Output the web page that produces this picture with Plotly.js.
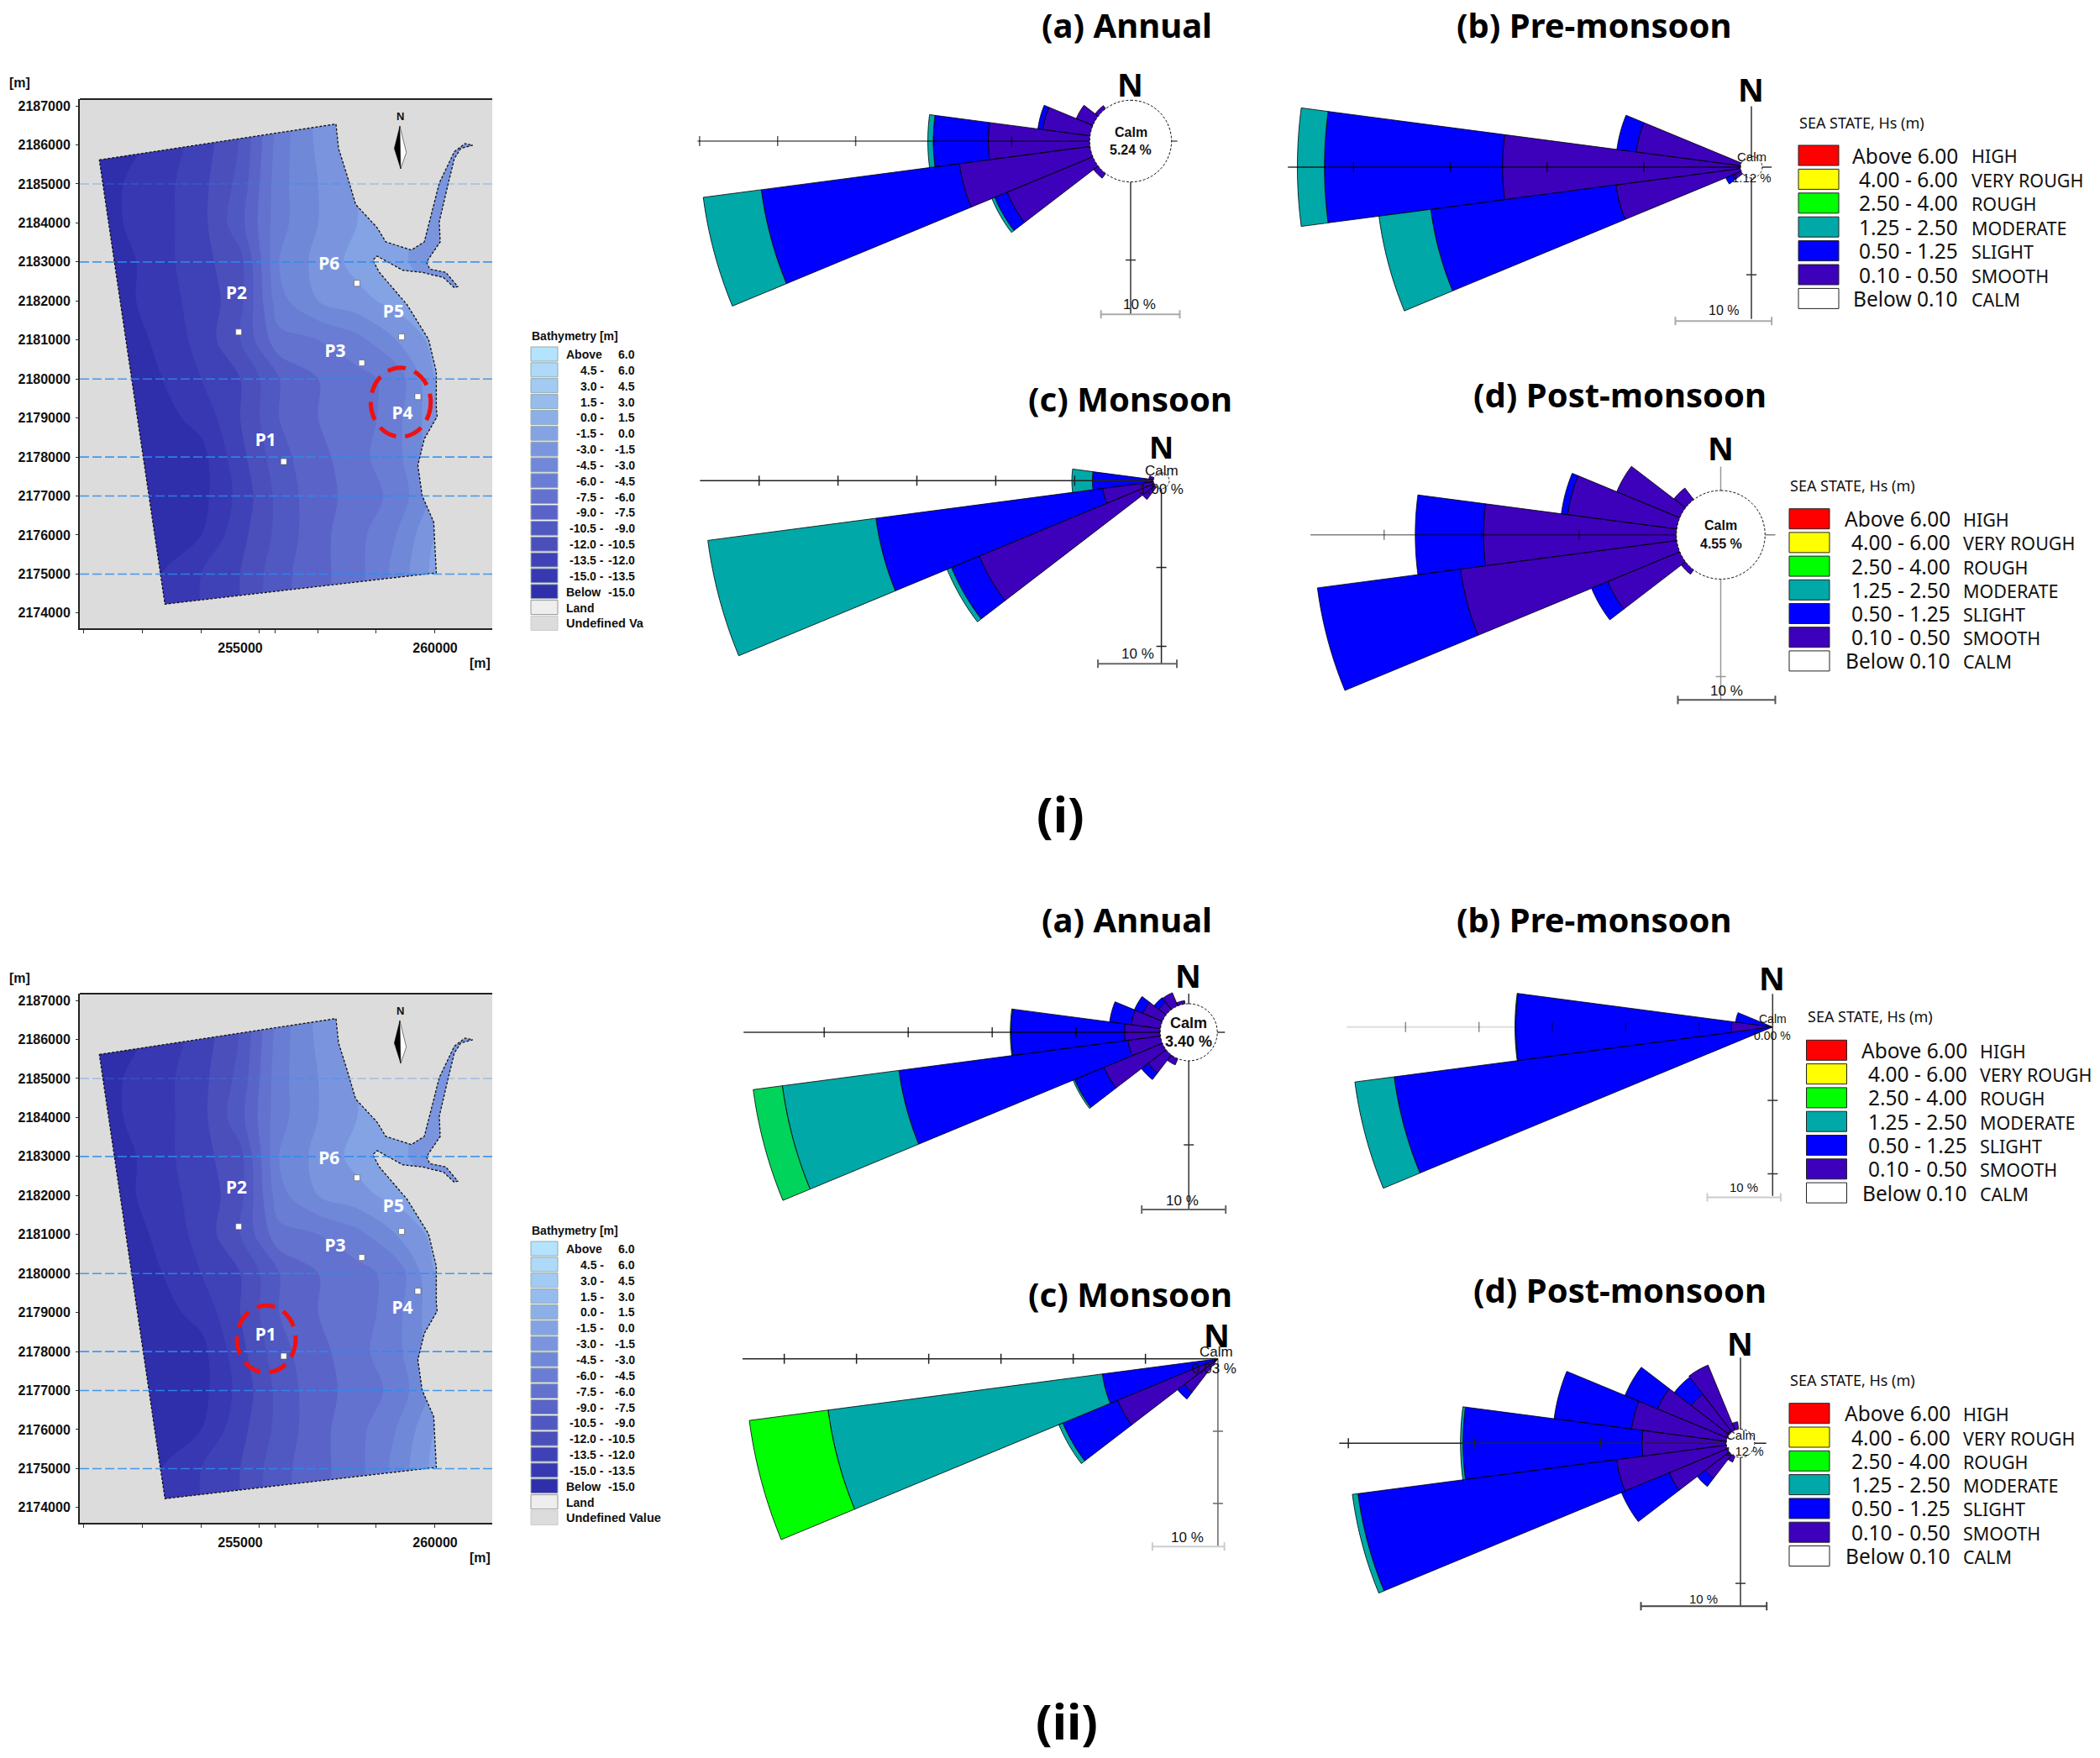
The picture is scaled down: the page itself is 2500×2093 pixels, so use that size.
<!DOCTYPE html>
<html><head><meta charset="utf-8">
<script src="https://cdn.plot.ly/plotly-3.0.1.min.js"></script>
<style>html,body{margin:0;padding:0;background:#fff}#g{width:2500px;height:2093px}</style>
</head><body><div id="g"></div><script>
// ---------- bathymetry map data ----------
const gridX=[251000,252000,253000,254000,255000,256000,257000,258000,259000,260000,261000];
const gridY=[2187000,2186000,2185000,2184000,2183000,2182000,2181000,2180000,2179000,2178000,2177000,2176000,2175000,2174000];
const depth=[
[-16,-15.5,-14.5,-13,-10.5,-5.5,-2.5,-1,-1,-1,-1],
[-16,-15.5,-14.4,-12.8,-10.4,-5.2,-2.7,-1.2,-1,-2,-2],
[-16,-15,-14,-12.5,-10,-5,-3,-1.5,-1,-2,-2],
[-16,-15,-14,-12.5,-9.5,-5,-3,-1.5,-1,-2,-2],
[-16,-15.5,-14,-12.5,-11,-4.5,-2.5,-1,-1,-2.5,-2.5],
[-16,-15.5,-14,-13,-11,-5,-3,-2,-1,-1,-1],
[-16,-16,-14.5,-13,-10.5,-6.5,-6,-5,-3,-1,-1],
[-16.5,-16.5,-15,-13.5,-12,-9,-7.5,-6.5,-5.5,-1.5,-1],
[-16.5,-16.5,-15.5,-14.5,-12,-9,-7.5,-7,-5,-2,-1],
[-16.5,-16.5,-16,-15.5,-12.5,-9.5,-8,-6.5,-5,-2,-1],
[-16.5,-16.5,-16,-15.5,-13,-10,-8,-7,-5.5,-2.5,-1],
[-16.5,-16.5,-16,-15,-12.5,-10,-8,-6.5,-4.5,-1.5,-1],
[-16,-16,-15,-13.5,-12,-9.5,-8,-6.5,-4,-1,-1],
[-16,-16,-15,-13.5,-12,-9.5,-8,-6.5,-4,-1,-1]];
const coastX=[251385,257457,257523,257721,257963,258513,258733,259393,259723,260108,260383,260493,260768,260966,260658,260493,260328,260108,260130,259778,259866,260273,260581,260493,260218,259668,259173,258513,258403,258568,259283,259833,260031,260031,260053,259723,259558,259668,259965,260031,253068];
const coastY=[2185618,2186534,2185909,2185284,2184472,2183879,2183515,2183307,2183515,2185024,2185597,2185826,2186034,2185992,2185909,2185649,2184972,2184035,2183515,2182994,2182817,2182734,2182370,2182338,2182599,2182734,2182786,2183150,2183046,2182734,2181901,2181016,2180183,2179247,2179038,2178466,2177789,2177008,2176332,2175031,2174229];
const stationNames=['P1','P2','P3','P4','P5','P6'];
const stationX=[256115,254960,258117,259558,259140,257996];
const stationY=[2177883,2181204,2180412,2179548,2181079,2182453];
const stationLabelX=[255653,254905,257435,259162,258931,257281];
const stationLabelY=[2178393,2182161,2180683,2179090,2181693,2182921];
const dashedY=[2185000,2183000,2180000,2178000,2177000,2175000];
const bathyLow=['Above','4.5 -','3.0 -','1.5 -','0.0 -','-1.5 -','-3.0 -','-4.5 -','-6.0 -','-7.5 -','-9.0 -','-10.5 -','-12.0 -','-13.5 -','-15.0 -','Below'];
const bathyHigh=['6.0','6.0','4.5','3.0','1.5','0.0','-1.5','-3.0','-4.5','-6.0','-7.5','-9.0','-10.5','-12.0','-13.5','-15.0'];
const bathyColors=['#b4e3fe','#aed9f9','#a2cbf3','#96bcee','#8cafe8','#84a3e4','#7a95de','#7088d8','#6a7dd4','#6272ce','#5a64c8','#5058c2','#4a4fbc','#3f42b7','#3838b3','#2f2fab'];
// ---------- wave rose data: percent occurrence per 15 degree sector ----------
const directions=[195,210,225,240,255,270,285,300,315,330,345];
const ia_calm=5.24, ib_calm=1.12, ic_calm=1.00, id_calm=4.55, iia_calm=3.40, iib_calm=0.00, iic_calm=0.03, iid_calm=1.12;
const ia_smooth=[0,0,.75,11.9,16.9,13,6.1,2.3,.5,0,0];
const ia_slight=[0,0,0,1.7,25.6,7.05,.65,0,0,0,0];
const ia_moderate=[0,0,0,.4,7.5,.7,0,0,0,0,0];
const ib_smooth=[0,0,0,1,13,24.6,10.9,0,0,0,0];
const ib_slight=[0,0,0,.75,19.3,18.4,2,0,0,0,0];
const ib_moderate=[0,0,0,0,5.4,2.8,0,0,0,0,0];
const ic_smooth=[0,0,2,24,6.5,1,.6,0,0,0,0];
const ic_slight=[0,0,0,3.8,29,6.75,0,0,0,0,0];
const ic_moderate=[0,0,0,.6,21.5,2.6,0,0,0,0,0];
const id_smooth=[0,0,.55,8,22.4,19.8,11.3,7,1.5,0,0];
const id_slight=[0,0,0,1.8,14.8,7,.65,0,0,0,0];
const iia_smooth=[0,.8,2.7,7.5,3.9,4.25,3.5,2.5,1.1,1.7,.4];
const iia_slight=[0,0,1,3.8,27.5,13.5,2.6,1.1,.7,0,0];
const iia_moderate=[0,0,0,.2,14,.1,0,0,0,0,0];
const iia_rough=[0,0,0,0,3.5,0,0,0,0,0,0];
const iib_smooth=[0,0,0,0,.3,5.6,0,0,0,0,0];
const iib_slight=[0,0,0,0,51.7,29.4,5.1,0,0,0,0];
const iib_moderate=[0,0,0,0,5.4,.1,0,0,0,0,0];
const iic_smooth=[0,0,5.8,15,.5,.5,0,0,0,0,0];
const iic_slight=[0,0,1.2,8.2,15.6,0,0,0,0,0,0];
const iic_moderate=[0,0,0,.6,38.3,0,0,0,0,0,0];
const iic_rough=[0,0,0,0,11,0,0,0,0,0,0];
const iid_smooth=[0,.5,2.4,5,8.8,6.7,7.6,6,3.8,5.6,.6];
const iid_slight=[0,0,.8,4.1,20.7,14.2,6.2,2.8,1.7,0,0];
const iid_moderate=[0,0,0,0,.45,.2,0,0,0,0,0];
const seaRanges=['Above 6.00','4.00 - 6.00','2.50 - 4.00','1.25 - 2.50','0.50 - 1.25','0.10 - 0.50','Below 0.10'];
const seaNames=['HIGH','VERY ROUGH','ROUGH','MODERATE','SLIGHT','SMOOTH','CALM'];
const seaColors=['#ff0000','#ffff00','#00ff00','#00a8a8','#0000ff','#3d00bb','#ffffff'];

// ---------- page helpers ----------
const W=2500,H=2093;
const data=[],shapes=[],annotations=[],layout={};
const px=x=>x/W, py=y=>1-y/H;
function text(x,y,t,size,o={}){annotations.push(Object.assign({xref:'paper',yref:'paper',x:px(x),y:py(y),text:t,showarrow:false,
 xanchor:o.anchor||'center',yanchor:'middle',borderpad:0,
 font:{family:o.family||'Liberation Sans',size:size,color:o.color||'#000',weight:o.weight||'normal'}},o.extra||{}));}
function swatch(x0,y0,x1,y1,fill,lc){shapes.push({type:'rect',xref:'paper',yref:'paper',x0:px(x0),x1:px(x1),y0:py(y0),y1:py(y1),fillcolor:fill,line:{color:lc,width:1},layer:'above'});}
const SANS='Noto Sans';

// ---------- map panels ----------
function addMap(n,dy,circle,undefinedLabel){
 const ax=n===1?'':String(n), xa='x'+ax, ya='y'+ax;
 const L=95,R=586,T=118+dy,B=748+dy;
 const xr=[250884,261466], yr=[2173610,2187174];
 layout['xaxis'+ax]={domain:[px(L),px(R)],range:xr,anchor:ya,fixedrange:true,showgrid:false,zeroline:false,showline:true,linecolor:'#222',linewidth:2,
  tickmode:'array',tickvals:[255000,260000],ticktext:['255000','260000'],ticks:'',ticklabelstandoff:8,tickfont:{family:'Liberation Sans',size:16,color:'#111',weight:'bold'},
  minor:{tickmode:'array',tickvals:[250990,252490,253990,255490,255900,256990,258490,259990],ticks:'outside',ticklen:4,tickcolor:'#333',tickwidth:1,showgrid:false}};
 layout['yaxis'+ax]={domain:[py(B),py(T)],range:yr,anchor:xa,fixedrange:true,showgrid:false,zeroline:false,showline:true,linecolor:'#222',linewidth:2,
  tickmode:'array',tickvals:gridY,ticktext:gridY.map(String),ticks:'outside',ticklen:3,tickcolor:'#333',tickfont:{family:'Liberation Sans',size:16,color:'#111',weight:'bold'},ticklabelstandoff:3};
 data.push({type:'contour',x:gridX,y:gridY,z:depth,xaxis:xa,yaxis:ya,zmin:-16.5,zmax:7.5,showscale:false,hoverinfo:'skip',autocontour:false,
  contours:{start:-15,end:6,size:1.5,coloring:'fill',showlines:false},line:{width:0,smoothing:1},
  colorscale:bathyColors.slice().reverse().map((c,i)=>[i/15,c])});
 const x0=xr[0]-200,x1=xr[1]+200,y0=yr[0]-200,y1=yr[1]+200;
 const maskX=[x0,x0,x1,x1,x0].concat(coastX,[coastX[0],x0]);
 const maskY=[y1,y0,y0,y1,y1].concat(coastY,[coastY[0],y1]);
 data.push({type:'scatter',mode:'lines',x:maskX,y:maskY,xaxis:xa,yaxis:ya,fill:'toself',fillcolor:'#dcdcdc',line:{width:0,simplify:false},hoverinfo:'skip',showlegend:false});
 data.push({type:'scatter',mode:'lines',x:coastX.concat(coastX[0]),y:coastY.concat(coastY[0]),xaxis:xa,yaxis:ya,line:{color:'#111',width:1.3,dash:'3px,2px',simplify:false},hoverinfo:'skip',showlegend:false});
 dashedY.forEach((v,i)=>data.push({type:'scatter',mode:'lines',x:xr,y:[v,v],xaxis:xa,yaxis:ya,opacity:i===0?0.35:0.85,line:{color:'#2a8cf0',width:1.6,dash:'11px,4px'},hoverinfo:'skip',showlegend:false}));
 // station squares and labels
 data.push({type:'scatter',mode:'markers+text',x:stationLabelX,y:stationLabelY,text:stationNames,textposition:'middle center',xaxis:xa,yaxis:ya,
  marker:{opacity:0,size:1},textfont:{family:SANS,size:21,color:'#fff',weight:'bold'},hoverinfo:'skip',showlegend:false});
 data.push({type:'scatter',mode:'markers',x:stationX,y:stationY,xaxis:xa,yaxis:ya,marker:{symbol:'square',size:7,color:'#fff',line:{color:'#555',width:0.6}},hoverinfo:'skip',showlegend:false});
 // north arrow
 data.push({type:'scatter',mode:'lines',x:[259096,259118,258953,259096],y:[2186482,2185389,2185909,2186482],xaxis:xa,yaxis:ya,fill:'toself',fillcolor:'#000',line:{color:'#000',width:0.5},hoverinfo:'skip',showlegend:false});
 data.push({type:'scatter',mode:'lines',x:[259096,259261,259118,259096],y:[2186482,2185805,2185389,2186482],xaxis:xa,yaxis:ya,fill:'toself',fillcolor:'#fff',line:{color:'#000',width:0.5},hoverinfo:'skip',showlegend:false});
 annotations.push({xref:xa,yref:ya,x:259096,y:2186742,text:'N',showarrow:false,font:{family:'Liberation Sans',size:13,color:'#111',weight:'bold'}});
 // top frame
 shapes.push({type:'line',xref:'paper',yref:'paper',x0:px(L),x1:px(R),y0:py(T),y1:py(T),line:{color:'#222',width:2}});
 // red circle
 shapes.push({type:'circle',xref:xa,yref:ya,x0:circle[0]-circle[2],x1:circle[0]+circle[2],y0:circle[1]-circle[3],y1:circle[1]+circle[3],line:{color:'#f01010',width:5,dash:'22px,11px'},layer:'above'});
 text(23,99+dy,'[m]',16,{weight:'bold',color:'#111'});
 text(571,789+dy,'[m]',16,{weight:'bold',color:'#111'});
 // bathymetry legend
 text(632,400+dy,'Bathymetry [m]',14,{anchor:'left',weight:'bold',color:'#111'});
 const step=18.85;
 bathyLow.forEach((lab,i)=>{
  const top=413+dy+i*step;
  swatch(632,top,664,top+17,bathyColors[i],'#9aa');
  const y=top+9;
  if(lab==='Above'||lab==='Below') text(673,y,lab,14,{anchor:'left',weight:'bold',color:'#111'});
  else text(720,y,lab,14,{anchor:'right',weight:'bold',color:'#111'});
  text(757,y,bathyHigh[i],14,{anchor:'right',weight:'bold',color:'#111'});
 });
 swatch(632,413+dy+16*step,664,413+dy+16*step+17,'#eeeeee','#999');
 swatch(632,413+dy+17*step,664,413+dy+17*step+17,'#dcdcdc','#ccc');
 text(673,413+dy+16*step+9,'Land',14,{anchor:'left',weight:'bold',color:'#111'});
 text(673,413+dy+17*step+9,undefinedLabel,14.5,{anchor:'left',weight:'bold',color:'#111'});
}
addMap(1,0,[259118,2179403,770,885],'Undefined Va');
addMap(2,1065,[255668,2178322,754,860],'Undefined Value');

// ---------- wave rose panels ----------
let axisId=3;
function sector(dir,r0,r1,xs,ys){
 const a0=dir-7.5,a1=dir+7.5,n=10,pts=[];
 for(let i=0;i<=n;i++){const t=(a0+(a1-a0)*i/n)*Math.PI/180;pts.push([r1*Math.sin(t),r1*Math.cos(t)]);}
 for(let i=n;i>=0;i--){const t=(a0+(a1-a0)*i/n)*Math.PI/180;pts.push([r0*Math.sin(t),r0*Math.cos(t)]);}
 pts.push(pts[0]);
 pts.forEach(p=>{xs.push(p[0]);ys.push(p[1]);});xs.push(null);ys.push(null);
}
function addRose(o){
 const ax=String(axisId++),xa='x'+ax,ya='y'+ax,s=o.ppp;
 const L=Math.max(0,o.cx-760),R=Math.min(W,o.cx+200),T=Math.max(0,o.cy-200),B=Math.min(H,o.cy+500);
 layout['xaxis'+ax]={domain:[px(L),px(R)],range:[(L-o.cx)/s,(R-o.cx)/s],anchor:ya,visible:false,fixedrange:true};
 layout['yaxis'+ax]={domain:[py(B),py(T)],range:[(o.cy-B)/s,(o.cy-T)/s],anchor:xa,visible:false,fixedrange:true};
 const line=(xs,ys,c,w)=>data.push({type:'scatter',mode:'lines',x:xs,y:ys,xaxis:xa,yaxis:ya,line:{color:c,width:w,simplify:false},hoverinfo:'skip',showlegend:false,connectgaps:false});
 const tick=6/s, vx=[0,0],vy=[o.vTop,o.vBottom],tx=[],ty=[];
 for(let v=o.calm+10;v<-o.vBottom;v+=10){vx.push(null,-tick,tick);vy.push(null,-v,-v);}
 for(let v=o.calm+10;v<o.hLeft;v+=10){tx.push(null,-v,-v);ty.push(null,-tick,tick);}
 line(vx,vy,o.vColor,1.5);
 if(o.hBehind) line([-o.hLeft,o.hRight],[0,0],o.hColor,2.5);
 // stacked sectors
 const base=directions.map(()=>o.calm);
 [[o.smooth,'#3d00bb'],[o.slight,'#0000ff'],[o.moderate,'#00a8a8'],[o.rough,o.roughColor||'#00ff00']].forEach(([vals,col])=>{
  if(!vals) return;
  const xs=[],ys=[];
  vals.forEach((v,i)=>{ if(v>0){ sector(directions[i],base[i],base[i]+v,xs,ys); base[i]+=v; } });
  data.push({type:'scatter',mode:'lines',x:xs,y:ys,xaxis:xa,yaxis:ya,fill:'toself',fillcolor:col,line:{color:'#000',width:0.8,simplify:false},hoverinfo:'skip',showlegend:false});
 });
 if(!o.hBehind) line([-o.hLeft,o.hRight],[0,0],o.hColor,1.5);
 line(tx,ty,o.tickColor||o.hColor,1.5);
 // calm circle
 if(o.calm>0.5){
  const cxs=[],cys=[];for(let i=0;i<=72;i++){const t=i*5*Math.PI/180;cxs.push(o.calm*Math.sin(t));cys.push(o.calm*Math.cos(t));}
  data.push({type:'scatter',mode:'lines',x:cxs,y:cys,xaxis:xa,yaxis:ya,fill:'toself',fillcolor:'#fff',line:{color:'#111',width:1,dash:'3px,2px',simplify:false},hoverinfo:'skip',showlegend:false});
 }
 // 10 % scale bar
 const barT=5/s;
 line([o.barX[0],o.barX[1],null,o.barX[0],o.barX[0],null,o.barX[1],o.barX[1]],[o.barY,o.barY,null,o.barY-barT,o.barY+barT,null,o.barY-barT,o.barY+barT],o.barColor,2);
 text(o.cx+o.labelDx,o.cy+o.labelDy,'10 %',o.labelSize,{color:'#111'});
 text(o.nx,o.ny,'N',o.nSize||38,{family:SANS,weight:'bold'});
 text(o.cx+(o.calmDx||0),o.cy-o.calmUp,'Calm',o.calmSize,{weight:o.calmWeight||'normal',color:'#111'});
 text(o.cx+(o.pctDx||0),o.cy+o.pctDown,o.calm.toFixed(2)+' %',o.calmSize,{weight:o.calmWeight||'normal',color:'#111'});
}
addRose({cx:1346,cy:168,ppp:9.29,calm:ia_calm,smooth:ia_smooth,slight:ia_slight,moderate:ia_moderate,vTop:0,vBottom:-22.2,hLeft:55.5,hRight:6,hColor:'rgba(0,0,0,0.65)',vColor:'#333',
 barX:[-3.8,6.3],barY:-22.2,barColor:'#aaa',labelDx:10,labelDy:194,labelSize:17,nx:1345,ny:100,calmUp:11,pctDown:11,calmSize:16,calmWeight:'bold'});
addRose({cx:2085,cy:199,ppp:11.52,calm:ib_calm,smooth:ib_smooth,slight:ib_slight,moderate:ib_moderate,vTop:6.3,vBottom:-15.7,hLeft:47.9,hRight:2.1,hColor:'rgba(0,0,0,0.8)',vColor:'#333',
 barX:[-7.86,2.1],barY:-15.9,barColor:'#aaa',labelDx:-33,labelDy:170,labelSize:16,nx:2084,ny:106,calmUp:12,pctDown:12,calmSize:15});
addRose({cx:1382.6,cy:572.3,ppp:9.39,calm:ic_calm,smooth:ic_smooth,slight:ic_slight,moderate:ic_moderate,vTop:0,vBottom:-23.2,hLeft:58.5,hRight:0,hColor:'#222',vColor:'#222',
 barX:[-8.04,1.96],barY:-23.2,barColor:'#666',labelDx:-28,labelDy:206,labelSize:17,nx:1382,ny:533,nSize:36,calmUp:12,pctDown:10,calmSize:17});
addRose({cx:2048.5,cy:636.7,ppp:11.6,calm:id_calm,smooth:id_smooth,slight:id_slight,hRight:5.6,vTop:7,vBottom:-16.95,hLeft:42.1,hColor:'rgba(0,0,0,0.5)',vColor:'#999',
 barX:[-4.4,5.6],barY:-16.95,barColor:'#555',labelDx:7,labelDy:186,labelSize:17,nx:2048,ny:533,calmUp:11,pctDown:11,calmSize:16,calmWeight:'bold'});
addRose({cx:1415.2,cy:1229,ppp:10,calm:iia_calm,smooth:iia_smooth,slight:iia_slight,moderate:iia_moderate,rough:iia_rough,roughColor:'#00d45a',vTop:4.6,vBottom:-21.1,hLeft:53,hRight:4.3,hColor:'rgba(0,0,0,0.8)',vColor:'#333',
 barX:[-5.6,4.4],barY:-21.1,barColor:'#666',labelDx:-8,labelDy:200,labelSize:17,nx:1414,ny:1161,calmUp:11,pctDown:11,calmSize:18,calmWeight:'bold'});
addRose({cx:2110.3,cy:1222.7,ppp:8.74,calm:iib_calm,smooth:iib_smooth,slight:iib_slight,moderate:iib_moderate,vTop:4.5,vBottom:-23,hLeft:58,hRight:0,hColor:'#e4e4e4',hBehind:true,tickColor:'rgba(0,0,0,0.45)',vColor:'#333',
 barX:[-8.9,1.1],barY:-23.2,barColor:'#ccc',labelDx:-34,labelDy:191,labelSize:15,nx:2109,ny:1164,calmUp:10,pctDown:10,calmSize:14});
addRose({cx:1449.9,cy:1617.7,ppp:8.6,calm:iic_calm,smooth:iic_smooth,slight:iic_slight,moderate:iic_moderate,rough:iic_rough,vTop:0,vBottom:-26,hLeft:65.8,hRight:0,hColor:'#222',vColor:'#666',
 barX:[-9.07,.9],barY:-26,barColor:'#ccc',labelDx:-36,labelDy:213,labelSize:17,nx:1448,ny:1589,nSize:38,calmUp:8,pctDown:12,calmSize:17,calmDx:-2,pctDx:-4});
addRose({cx:2072,cy:1718.3,ppp:15,calm:iid_calm,smooth:iid_smooth,slight:iid_slight,moderate:iid_moderate,vTop:6.8,vBottom:-12.9,hLeft:31.85,hRight:2.04,hColor:'#222',vColor:'#333',
 barX:[-7.9,2.08],barY:-12.93,barColor:'#444',labelDx:-44,labelDy:185,labelSize:15,nx:2071,ny:1599,calmUp:10,pctDown:9,calmSize:15,calmDx:0,pctDx:4});

// ---------- sea-state legends ----------
function seaLegend(left,top,step,titleY,rangeRight,nameLeft){
 text(left,titleY,'SEA STATE, Hs (m)',18,{anchor:'left',family:SANS,color:'#111'});
 seaRanges.forEach((r,i)=>{
  const y=top+i*step;
  swatch(left,y,left+48,y+24,seaColors[i],'#222');
  text(rangeRight,y+12,r,24.5,{anchor:'right',family:SANS,color:'#111'});
  text(nameLeft,y+13,seaNames[i],21.5,{anchor:'left',family:SANS,color:'#111'});
 });
}
seaLegend(2141,173,28.4,146,2332,2346);
seaLegend(2130,605.7,28.2,578,2322.7,2335.5);
seaLegend(2150.5,1238.3,28.3,1210,2343,2356);
seaLegend(2130,1670.7,28.3,1643,2322.7,2335.5);

// ---------- titles ----------
[[1341,30,'(a) Annual'],[1897,30,'(b) Pre-monsoon'],[1345,475,'(c) Monsoon'],[1929,470,'(d) Post-monsoon'],
 [1341,1094,'(a) Annual'],[1897,1094,'(b) Pre-monsoon'],[1345,1540,'(c) Monsoon'],[1929,1535,'(d) Post-monsoon']]
 .forEach(t=>text(t[0],t[1],t[2],40,{family:SANS,weight:'bold'}));
text(1262,968,'(i)',58,{family:SANS,weight:'bold'});
text(1270,2048,'(ii)',58,{family:SANS,weight:'bold'});

Object.assign(layout,{width:W,height:H,margin:{l:0,r:0,t:0,b:0},paper_bgcolor:'#fff',plot_bgcolor:'rgba(0,0,0,0)',showlegend:false,shapes,annotations});
Plotly.newPlot('g',data,layout,{staticPlot:true,displayModeBar:false});
</script></body></html>
